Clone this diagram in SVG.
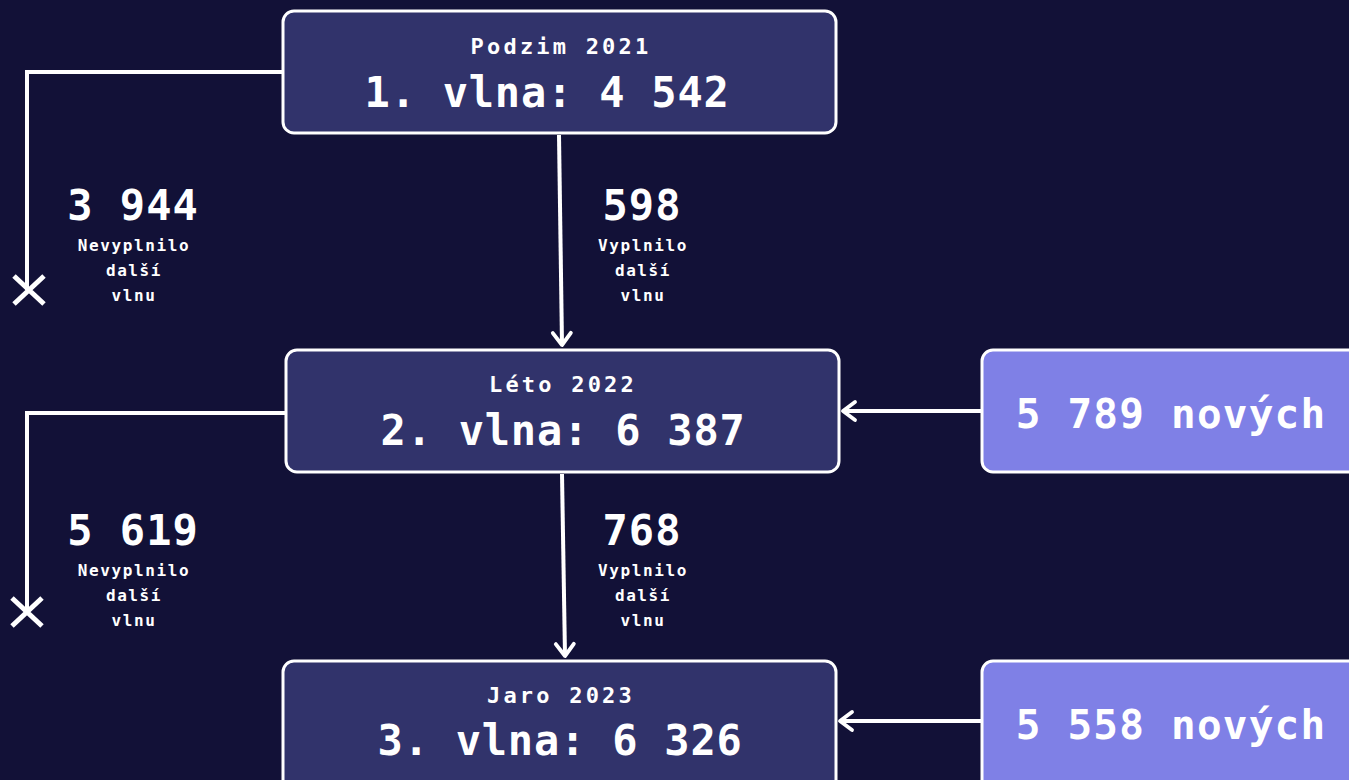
<svg xmlns="http://www.w3.org/2000/svg" width="1349" height="780" viewBox="0 0 1349 780">
<defs>
<style>
.bg{fill:#121137}
.wave rect{fill:#31336b;stroke:#fff;stroke-width:3}
.new rect{fill:#7f80e6;stroke:#fff;stroke-width:3}
text{font-family:"DejaVu Sans Mono","Liberation Mono",monospace;fill:#fff;text-anchor:middle;font-weight:bold}
.hd{font-size:22px;letter-spacing:3.2px}
.mn{font-size:42px;letter-spacing:0.8px}
.num{font-size:42px;letter-spacing:1px}
.sm{font-size:16px;letter-spacing:1.6px}
.nw{font-size:41px;letter-spacing:1.2px}
.ln{fill:none;stroke:#fff;stroke-width:4}
.x{fill:none;stroke:#fff;stroke-width:5}
</style>
<marker id="ah" viewBox="0 0 20 20" refX="17" refY="10" markerWidth="6" markerHeight="6" markerUnits="strokeWidth" orient="auto">
<path d="M7 2.5 L17 10 L7 17.5" fill="none" stroke="#fff" stroke-width="3.2" stroke-linecap="round" stroke-linejoin="round"/>
</marker>
</defs>
<rect class="bg" x="0" y="0" width="1349" height="780"/>
<g id="connectors">
<path class="ln" d="M283 72 H27 V290"/>
<path class="x" d="M14 276 L44 304 M44 276 L14 304"/>
<path class="ln" d="M286 413 H27 V611"/>
<path class="x" d="M12 598 L42 626 M42 598 L12 626"/>
<line class="ln" x1="559" y1="135" x2="562" y2="345" marker-end="url(#ah)"/>
<line class="ln" x1="562" y1="474" x2="565" y2="656" marker-end="url(#ah)"/>
<line class="ln" x1="981" y1="411" x2="843" y2="411" marker-end="url(#ah)"/>
<line class="ln" x1="981" y1="721" x2="840" y2="721" marker-end="url(#ah)"/>
</g>
<g id="labels">
<text class="num" x="133" y="220">3 944</text>
<text class="sm" x="134" y="251">Nevyplnilo</text>
<text class="sm" x="134" y="276">další</text>
<text class="sm" x="134" y="301">vlnu</text>
<text class="num" x="642" y="220">598</text>
<text class="sm" x="643" y="251">Vyplnilo</text>
<text class="sm" x="643" y="276">další</text>
<text class="sm" x="643" y="301">vlnu</text>
<text class="num" x="133" y="545">5 619</text>
<text class="sm" x="134" y="576">Nevyplnilo</text>
<text class="sm" x="134" y="601">další</text>
<text class="sm" x="134" y="626">vlnu</text>
<text class="num" x="642" y="545">768</text>
<text class="sm" x="643" y="576">Vyplnilo</text>
<text class="sm" x="643" y="601">další</text>
<text class="sm" x="643" y="626">vlnu</text>
</g>
<g id="wave1" class="wave">
<rect x="283" y="11" width="553" height="122" rx="11"/>
<text class="hd" x="561" y="54">Podzim 2021</text>
<text class="mn" x="547" y="107">1. vlna: 4 542</text>
</g>
<g id="wave2" class="wave">
<rect x="286" y="350" width="553" height="122" rx="11"/>
<text class="hd" x="563" y="392">Léto 2022</text>
<text class="mn" x="563" y="445">2. vlna: 6 387</text>
</g>
<g id="wave3" class="wave">
<rect x="283" y="661" width="553" height="130" rx="11"/>
<text class="hd" x="561" y="703">Jaro 2023</text>
<text class="mn" x="560" y="755">3. vlna: 6 326</text>
</g>
<g id="new2" class="new">
<rect x="982" y="350" width="380" height="122" rx="11"/>
<text class="nw" x="1171" y="428">5 789 nových</text>
</g>
<g id="new3" class="new">
<rect x="982" y="661" width="380" height="130" rx="11"/>
<text class="nw" x="1171" y="739">5 558 nových</text>
</g>
</svg>
